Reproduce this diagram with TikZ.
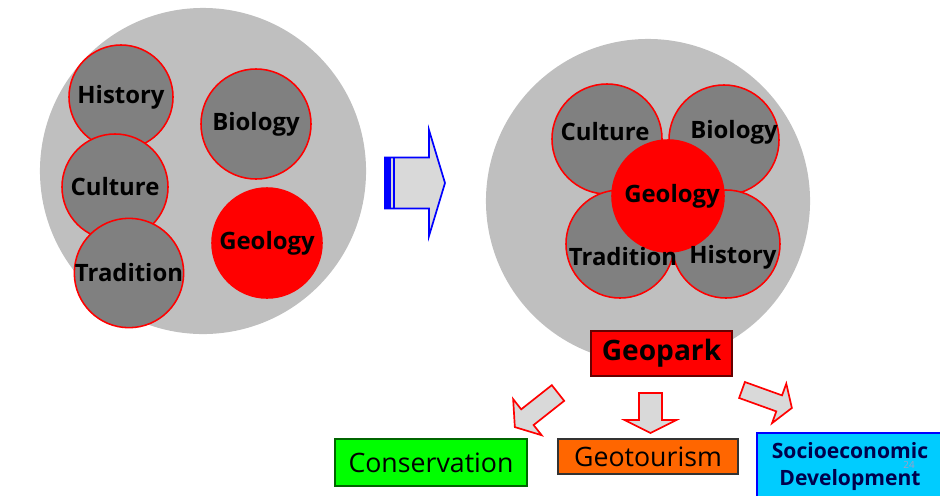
\documentclass[tikz,border=0pt]{standalone}
\usepackage{fontspec}
\setmainfont{Open Sans}
\usetikzlibrary{positioning,calc}
\definecolor{disk}{RGB}{191,191,191}
\definecolor{topicgray}{RGB}{128,128,128}
\definecolor{geored}{RGB}{255,0,0}
\definecolor{consgreen}{RGB}{0,255,0}
\definecolor{tourorange}{RGB}{255,102,0}
\definecolor{sociocyan}{RGB}{0,204,255}
\definecolor{arrowfill}{RGB}{217,217,217}
\tikzset{
  bigdisk/.style={circle, fill=disk, minimum size=8.15cm, inner sep=0pt},
  topic/.style={circle, draw=geored, line width=1.1pt, fill=topicgray, inner sep=0pt,
                minimum size=2.75cm, font=\fontsize{17}{19}\selectfont\bfseries},
  core/.style={topic, fill=geored},
  lbl/.style={font=\fontsize{17}{19}\selectfont\bfseries, inner sep=0pt},
  outbox/.style={draw, line width=0.8pt, inner sep=2pt, align=center},
  redarrow/.style={draw=geored, fill=arrowfill, line width=1.2pt, line join=miter},
  pics/fatarrow/.style n args={4}{code={
    \draw[pic actions] (0,-#2) -- ({#1-#4},-#2) -- ({#1-#4},-#3) -- (#1,0)
      -- ({#1-#4},#3) -- ({#1-#4},#2) -- (0,#2) -- cycle;
  }},
}

\begin{document}
\begin{tikzpicture}[x=0.025cm, y=-0.025cm]
    \useasboundingbox (0,0) rectangle (940,495);

    \node[bigdisk] (leftdisk) at (203,171) {};
    \node[bigdisk, minimum size=8.1cm] (rightdisk) at (648,201) {};

    \node[topic, minimum size=2.6cm]  (lhis) at (121,97)  {History};
    \node[topic, minimum size=2.65cm] (lcul) at (115,187) {Culture};
    \node[topic, minimum size=2.7cm]  (ltra) at (129,273) {Tradition};
    \node[topic]                      (lbio) at (256,124) {Biology};
    \node[core]                       (lgeo) at (267,243) {Geology};

    \pic[draw=blue, fill=arrowfill, line width=1.2pt] at (385,183) {fatarrow={60}{25.5}{53}{16}};
    \fill[blue] (385,158) rectangle (391,209);
    \draw[blue, line width=1pt] (394,158) -- (394,209);

    \node[topic] (rcul) at (607,139) {};
    \node[topic] (rbio) at (724,140) {};
    \node[topic, minimum size=2.7cm] (rtra) at (620,244) {};
    \node[topic, minimum size=2.7cm] (rhis) at (726,244) {};
    \node[core, minimum size=2.8cm]  (rgeo) at (668,196) {};
    \node[lbl] (rcultxt) at ($(rcul)+(-2,-7)$) {Culture};
    \node[lbl] (rbiotxt) at ($(rbio)+(10,-8)$) {Biology};
    \node[lbl] (rgeotxt) at ($(rgeo)+(4,0)$) {Geology};
    \node[lbl] (rtratxt) at ($(rtra)+(3,13)$) {Tradition};
    \node[lbl] (rhistxt) at ($(rhis)+(7,13)$) {History};

    \node[outbox, fill=geored, draw=black!60!geored, minimum width=3.525cm, minimum height=1.125cm,
          font=\fontsize{20}{22}\selectfont\bfseries] (geopark) at (661.5,353.5) {Geopark};

    \pic[redarrow, rotate=218.3] at (558,393)   {fatarrow={55}{10}{23}{16}};
    \pic[redarrow, rotate=-90]   at (650.5,393) {fatarrow={40}{11.5}{26}{13}};
    \pic[redarrow, rotate=-19.8] at (742,390)   {fatarrow={53}{8.5}{21}{13.5}};

    \node[outbox, fill=consgreen, draw=green!40!black, minimum width=4.8cm, minimum height=1.175cm,
          font=\fontsize{19}{21}\selectfont] (conserv) at (431,462.5) {Conservation};
    \node[outbox, fill=tourorange, draw=black!80, minimum width=4.5cm, minimum height=0.875cm,
          font=\fontsize{19}{21}\selectfont] (geotour) at (648,456.5) {Geotourism};
    \node[outbox, fill=sociocyan, draw=blue, minimum width=4.65cm, minimum height=1.675cm,
          font=\fontsize{15}{19}\selectfont\bfseries, text=blue!30!black] (socio) at (850,466.5) {Socioeconomic\\Development};
    \node[text=blue!25!gray!60, font=\fontsize{7}{7}\selectfont, inner sep=0pt] (pgnum) at (909,465) {24};
  \end{tikzpicture}
\end{document}
